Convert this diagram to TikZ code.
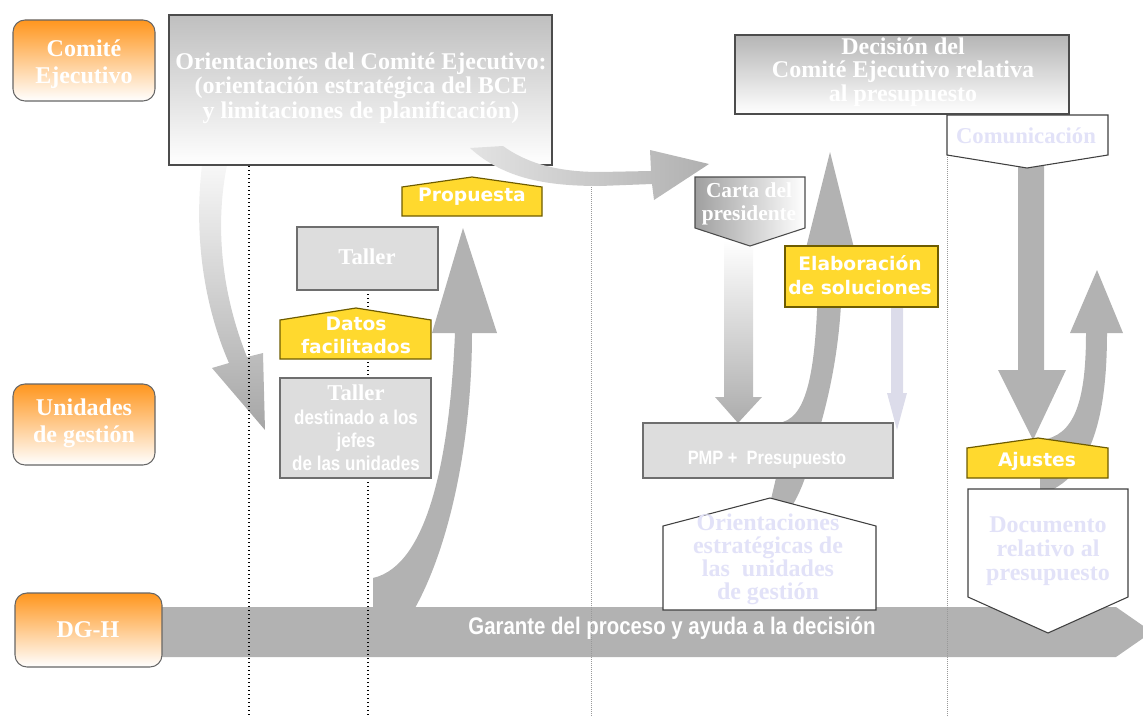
\documentclass[tikz,border=0pt]{standalone}
\usepackage{fontspec}
\setmainfont{Liberation Serif}
\newfontfamily\sansb{DejaVu Sans}
\newfontfamily\narrowb[FakeStretch=0.85]{Liberation Sans}
\definecolor{org}{RGB}{255,150,30}
\definecolor{yel}{RGB}{255,217,46}
\definecolor{yelb}{RGB}{110,92,0}
\definecolor{boxg}{RGB}{221,221,221}
\definecolor{edgeg}{RGB}{110,110,110}
\definecolor{arrg}{RGB}{178,178,178}
\definecolor{lav}{RGB}{226,226,248}
\definecolor{lavarr}{RGB}{220,220,234}
\begin{document}
\begin{tikzpicture}[x=0.75pt,y=-0.75pt,
  orgbox/.style={draw=black!60, line width=0.8pt, rounded corners=9pt, top color=org, bottom color=white},
  grybox/.style={draw=edgeg, line width=0.9pt, fill=boxg},
  yelbox/.style={draw=yelb, line width=0.9pt, fill=yel},
  whtbox/.style={draw=black!75, line width=0.8pt, fill=white},
  lbl/.style={text=white, font=\bfseries, align=center, inner sep=0pt},
  lavlbl/.style={text=lav, font=\bfseries, align=center, inner sep=0pt},
  blackdots/.style={black, line width=1.1pt, dash pattern=on 1.1pt off 1.9pt},
  graydots/.style={black!40, line width=0.5pt, dash pattern=on 0.7pt off 0.8pt}]
\useasboundingbox (0,0) rectangle (1143,717);
\clip (0,0) rectangle (1143,717);

% ---- band
\fill[arrg] (162,607) -- (1116,607) -- (1152,632) -- (1116,657) -- (162,657) -- cycle;
% ---- big up arrow (DG-H -> Propuesta)
\fill[arrg] (373,608) -- (373,578) .. controls (430,565) and (450,450) .. (455,333) -- (432,333) -- (463,228) -- (497,333) -- (472,333) .. controls (472,440) and (450,545) .. (415,608) -- cycle;
% ---- left curved down arrow
\shade[top color=gray!6, bottom color=gray!70] (202,165) .. controls (192,250) and (210,320) .. (229,363) -- (212,368) -- (265,430) -- (263,353) -- (247,357) .. controls (228,310) and (212,240) .. (227,165) -- cycle;
% ---- middle big curved up arrow
\fill[arrg] (768,512) -- (776,478) -- (778,423) .. controls (805,420) and (816,380) .. (818,280) -- (798,280) -- (830,152) -- (862,280) -- (842,280) .. controls (840,380) and (815,440) .. (805,478) .. controls (800,492) and (795,502) .. (787,514) -- cycle;
% ---- Carta down arrow
\shade[top color=white, bottom color=gray!65] (724,240) -- (753,240) -- (753,397) -- (762,397) -- (738,423) -- (715,397) -- (724,397) -- cycle;
% ---- lavender arrow
\fill[lavarr] (891,307) -- (903,307) -- (903,393) -- (907,393) -- (897,430) -- (887,393) -- (891,393) -- cycle;
% ---- right arrows
\fill[arrg] (1018,160) -- (1044,160) -- (1044,370) -- (1066,370) -- (1033,440) -- (998,370) -- (1018,370) -- cycle;
\fill[arrg] (1040,440) .. controls (1075,437) and (1086,400) .. (1086,333) -- (1070,333) -- (1097,270) -- (1123,333) -- (1107,333) .. controls (1107,420) and (1090,478) .. (1042,494) -- (1040,494) -- cycle;

% ---- dotted lines
\draw[blackdots] (249,166) -- (249,717);
\draw[blackdots] (368,290) -- (368,717);
\draw[graydots] (591,185) -- (591,717);
\draw[graydots] (947,155) -- (947,717);

% ---- left role boxes
\draw[orgbox] (13,20) rectangle (155,101);
\draw[orgbox] (13,384) rectangle (155,465);
\draw[orgbox] (15,593) rectangle (162,667);
\node[lbl, font=\bfseries\fontsize{18}{20}\selectfont] (comite) at (84,64) {Comité\\Ejecutivo};
\node[lbl, font=\bfseries\fontsize{18}{20}\selectfont] (unidades) at (84,423) {Unidades\\de gestión};
\node[lbl, font=\bfseries\fontsize{18}{20}\selectfont] (dgh) at (88,630) {DG-H};

% ---- top box
\draw[draw=black!70, line width=0.8pt, top color=gray!50, bottom color=white] (169,15) rectangle (552,165);
\node[lbl, font=\bfseries\fontsize{18}{18.5}\selectfont] (orient) at (361,88) {Orientaciones del Comité Ejecutivo:\\(orientación estratégica del BCE\\y limitaciones de planificación)};
% ---- curved arrow to Carta
\shade[left color=gray!22, right color=gray!62] (470,148) .. controls (505,180) and (550,186) .. (600,186) -- (652,184) -- (654,200) -- (709,164) -- (650,150) -- (651,171) -- (600,172) .. controls (555,172) and (525,162) .. (503,146) -- cycle;

% ---- Propuesta
\draw[yelbox] (402,216) -- (402,187) -- (472,177) -- (542,187) -- (542,216) -- cycle;
\node[lbl, font=\sansb\bfseries\fontsize{14}{17}\selectfont] (prop) at (472,197) {Propuesta};
% ---- Taller
\draw[grybox] (297,227) rectangle (438,290);
\node[lbl, font=\bfseries\fontsize{17}{20}\selectfont] (taller) at (367,257) {Taller};
% ---- Datos facilitados
\draw[yelbox] (280,359) -- (280,320) -- (356,308) -- (431,320) -- (431,359) -- cycle;
\node[lbl, font=\sansb\bfseries\fontsize{14}{17.5}\selectfont] (datos) at (356,335) {Datos\\facilitados};
% ---- Taller destinado
\draw[grybox] (280,378) rectangle (431,478);
\node[lbl, font=\narrowb\bfseries\fontsize{15}{17.5}\selectfont] (taller2) at (356,428) {{\rmfamily\fontsize{17}{21}\selectfont Taller}\\destinado a los\\jefes\\de las unidades};

% ---- Decision
\draw[draw=black!70, line width=0.8pt, top color=gray!58, bottom color=white] (735,35) rectangle (1069,114);
\node[lbl, font=\bfseries\fontsize{18}{17.6}\selectfont] (decision) at (903,72) {Decisión del\\Comité Ejecutivo relativa\\al presupuesto};
% ---- Comunicacion
\draw[whtbox] (947,115) -- (1108,115) -- (1108,155) -- (1027,168) -- (947,155) -- cycle;
\node[lavlbl, font=\bfseries\fontsize{17}{20}\selectfont] (comunic) at (1026,136) {Comunicación};
% ---- Carta
\draw[draw=black!70, line width=0.8pt, left color=gray!75, right color=white] (695,177) -- (805,177) -- (805,228) -- (750,246) -- (695,228) -- cycle;
\node[lbl, font=\bfseries\fontsize{16}{17}\selectfont] (carta) at (749,204) {Carta del\\presidente};
% ---- Elaboracion
\draw[yelbox] (785,246) rectangle (938,307);
\node[lbl, font=\sansb\bfseries\fontsize{14}{17.5}\selectfont] (elab) at (860,275) {Elaboración\\de soluciones};
% ---- PMP
\draw[grybox] (643,423) rectangle (893,478);
\node[lbl, font=\narrowb\bfseries\fontsize{14.5}{17}\selectfont] (pmp) at (767,460) {PMP +\ \ Presupuesto};
% ---- Orientaciones estrategicas
\draw[whtbox] (663,610) -- (663,526) -- (770,498) -- (876,526) -- (876,610) -- cycle;
\node[lavlbl, font=\bfseries\fontsize{18}{17.2}\selectfont] (oest) at (768,559) {Orientaciones\\estratégicas de\\las\ \ unidades\\de gestión};
% ---- Ajustes
\draw[yelbox] (967,478) -- (967,448) -- (1038,438) -- (1108,448) -- (1108,478) -- cycle;
\node[lbl, font=\sansb\bfseries\fontsize{14}{17}\selectfont] (ajustes) at (1037,461) {Ajustes};
% ---- Documento
\draw[whtbox] (968,489) -- (1128,489) -- (1128,597) -- (1048,633) -- (968,597) -- cycle;
\node[lavlbl, font=\bfseries\fontsize{18}{18}\selectfont] (docu) at (1048,551) {Documento\\relativo al\\presupuesto};
% ---- band label
\node[lbl, font=\narrowb\bfseries\fontsize{18}{20}\selectfont] (garante) at (672,628) {Garante del proceso y ayuda a la decisión};
\end{tikzpicture}
\end{document}
